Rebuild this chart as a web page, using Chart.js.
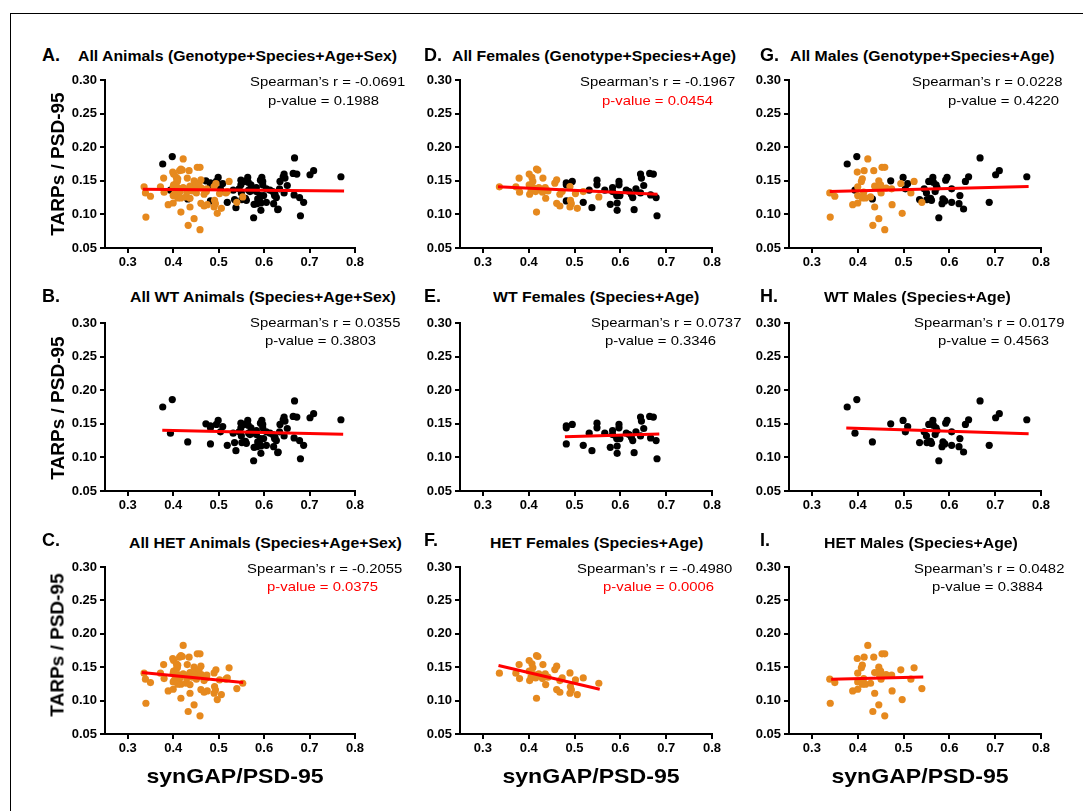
<!DOCTYPE html>
<html>
<head>
<meta charset="utf-8">
<script src="https://cdn.jsdelivr.net/npm/chart.js@4.4.1/dist/chart.umd.min.js"></script>
<style>
  html, body { margin: 0; padding: 0; background: #fff; }
  body { width: 1083px; height: 811px; position: relative; overflow: hidden;
         font-family: "Liberation Sans", Arial, Helvetica, sans-serif; color: #000; }
  .frame { position: absolute; left: 10px; top: 13px; width: 1200px; height: 1000px;
           border-left: 1px solid #000; border-top: 1px solid #000; }
  .txt { position: absolute; white-space: nowrap; line-height: 1; transform-origin: 0 0; }
  canvas { position: absolute; }
</style>
</head>
<body>
<div class="frame"></div>
<script>
// ---------------- DATA ----------------
// WT females (black)
const wtFemaleX = [0.482,0.482,0.482,0.495,0.519,0.532,0.538,0.549,0.549,0.566,0.578,0.583,0.583,0.592,0.593,0.593,0.597,0.597,0.599,0.613,0.619,0.624,0.627,0.630,0.634,0.644,0.646,0.644,0.651,0.664,0.672,0.666,0.678,0.680];
const wtFemaleY = [0.147,0.144,0.120,0.149,0.118,0.136,0.110,0.151,0.144,0.136,0.115,0.140,0.134,0.128,0.117,0.106,0.149,0.144,0.128,0.136,0.134,0.130,0.125,0.107,0.138,0.160,0.154,0.132,0.143,0.161,0.160,0.129,0.125,0.098];
// WT males (black)
const wtMaleX = [0.377,0.398,0.394,0.432,0.472,0.499,0.504,0.509,0.535,0.545,0.550,0.551,0.555,0.559,0.561,0.564,0.565,0.569,0.571,0.573,0.577,0.584,0.586,0.590,0.592,0.595,0.605,0.605,0.623,0.621,0.631,0.635,0.642,0.667,0.687,0.701,0.709,0.769];
const wtMaleY = [0.175,0.186,0.136,0.123,0.150,0.155,0.138,0.146,0.122,0.138,0.132,0.122,0.149,0.124,0.121,0.155,0.148,0.134,0.144,0.140,0.095,0.116,0.123,0.120,0.151,0.155,0.138,0.118,0.128,0.116,0.108,0.149,0.156,0.184,0.118,0.159,0.165,0.156];
// HET females (orange)
const hetFemaleX = [0.336,0.372,0.379,0.380,0.401,0.401,0.402,0.405,0.407,0.409,0.411,0.415,0.417,0.420,0.417,0.422,0.431,0.430,0.436,0.437,0.442,0.457,0.461,0.461,0.468,0.468,0.473,0.490,0.491,0.493,0.490,0.502,0.506,0.519,0.553];
const hetFemaleY = [0.141,0.141,0.154,0.133,0.160,0.144,0.130,0.135,0.155,0.149,0.139,0.134,0.1675,0.166,0.1035,0.140,0.154,0.133,0.140,0.124,0.135,0.1465,0.1515,0.1165,0.1125,0.130,0.134,0.1415,0.121,0.116,0.111,0.131,0.109,0.134,0.126];
// HET males (orange)
const hetMaleX = [0.339,0.340,0.350,0.389,0.399,0.400,0.400,0.400,0.408,0.410,0.414,0.413,0.410,0.417,0.422,0.428,0.433,0.435,0.437,0.437,0.446,0.448,0.446,0.451,0.450,0.453,0.459,0.459,0.462,0.474,0.475,0.494,0.497,0.516,0.523,0.540];
const hetMaleY = [0.132,0.096,0.127,0.1145,0.163,0.141,0.128,0.117,0.149,0.153,0.165,0.133,0.1245,0.1245,0.1826,0.126,0.0837,0.165,0.142,0.111,0.150,0.137,0.0937,0.132,0.144,0.170,0.170,0.0772,0.139,0.138,0.1145,0.146,0.1016,0.132,0.149,0.118];

// panels in order A, B, C, D, E, F, G, H, I
const panelLetters = ['A.','B.','C.','D.','E.','F.','G.','H.','I.'];
const panelTitles = [
  'All Animals (Genotype+Species+Age+Sex)',
  'All WT Animals (Species+Age+Sex)',
  'All HET Animals (Species+Age+Sex)',
  'All Females (Genotype+Species+Age)',
  'WT Females (Species+Age)',
  'HET Females (Species+Age)',
  'All Males (Genotype+Species+Age)',
  'WT Males (Species+Age)',
  'HET Males (Species+Age)'
];
const spearmanR = ['-0.0691','0.0355','-0.2055','-0.1967','0.0737','-0.4980','0.0228','0.0179','0.0482'];
const pValues   = ['0.1988','0.3803','0.0375','0.0454','0.3346','0.0006','0.4220','0.4563','0.3884'];
// which groups appear in each panel
const panelGroups = [
  ['wtF','wtM','hetF','hetM'], ['wtF','wtM'], ['hetF','hetM'],
  ['wtF','hetF'], ['wtF'], ['hetF'],
  ['wtM','hetM'], ['wtM'], ['hetM']
];
// regression line end points
const fitLineX = [[0.333,0.776],[0.376,0.774],[0.331,0.554],[0.333,0.681],[0.479,0.685],[0.334,0.555],[0.339,0.773],[0.375,0.773],[0.342,0.543]];
const fitLineY = [[0.1376,0.1347],[0.1403,0.1343],[0.142,0.127],[0.141,0.130],[0.1307,0.1347],[0.1525,0.117],[0.134,0.1416],[0.1436,0.1352],[0.1319,0.1354]];

const xTickValues = [0.3,0.4,0.5,0.6,0.7,0.8];
const yTickValues = [0.05,0.10,0.15,0.20,0.25,0.30];
const xRange = [0.25, 0.8];
const yRange = [0.05, 0.30];
const yAxisTitle = 'TARPs / PSD-95';
const xAxisTitle = 'synGAP/PSD-95';

// ---------------- STYLE / LAYOUT ----------------
const FONT = '"Liberation Sans", Arial, Helvetica, sans-serif';
const BLACK = '#000000';
const ORANGE = '#E6891E';
const RED = '#FF0000';
const groupData = {
  wtF: [wtFemaleX, wtFemaleY, BLACK], wtM: [wtMaleX, wtMaleY, BLACK],
  hetF: [hetFemaleX, hetFemaleY, ORANGE], hetM: [hetMaleX, hetMaleY, ORANGE]
};
const colAxisL = [105, 460, 789];
const colAxisR = [355, 712, 1041];
const rowAxisT = [80, 323, 567];
const rowAxisB = [248, 491, 734];
const letterX = [42, 424, 760];
const letterY = [55, 296, 540];
const titleLeft = [78, 130, 129, 452, 493, 490, 790, 824, 824];
const titleY = [56, 297, 543];
const rLeft = [250, 250, 247, 580, 591, 577, 912, 914, 914];
const rY = [82, 323, 569];
const pLeft = [268, 265, 267, 602, 605, 603, 948, 938, 932];
const pY = [101, 341, 587];
const yTitleY = [164, 408, 645];
const xTitleX = [235, 591, 920];
const xTitleY = 775;

const PT = 12, PR = 14, YW = 52, XH = 30;

function addText(str, left, centerY, size, weight, color, sx) {
  const d = document.createElement('div');
  d.className = 'txt';
  d.textContent = str;
  d.style.left = left + 'px';
  d.style.top = (centerY - size / 2) + 'px';
  d.style.fontSize = size + 'px';
  d.style.fontWeight = weight;
  d.style.color = color;
  if (sx) d.style.transform = 'scaleX(' + sx + ')';
  document.body.appendChild(d);
  return d;
}
function addCentered(str, cx, cy, size, transform) {
  const d = document.createElement('div');
  d.className = 'txt';
  d.textContent = str;
  d.style.left = cx + 'px';
  d.style.top = cy + 'px';
  d.style.fontSize = size + 'px';
  d.style.fontWeight = 'bold';
  d.style.transformOrigin = '0 0';
  d.style.transform = transform;
  document.body.appendChild(d);
}
const toPts = (xs, ys) => xs.map((x, i) => ({ x: x, y: ys[i] }));

for (let p = 0; p < 9; p++) {
  const col = Math.floor(p / 3), row = p % 3;
  const aL = colAxisL[col], aR = colAxisR[col], aT = rowAxisT[row], aB = rowAxisB[row];
  const cv = document.createElement('canvas');
  const W = YW + (aR - aL) + PR, H = PT + (aB - aT) + XH;
  cv.width = W; cv.height = H;
  cv.style.width = W + 'px'; cv.style.height = H + 'px';
  cv.style.left = (aL - YW) + 'px'; cv.style.top = (aT - PT) + 'px';
  document.body.appendChild(cv);

  const datasets = [{
    type: 'line', order: 0,
    data: toPts(fitLineX[p], fitLineY[p]),
    borderColor: RED, borderWidth: 3, pointRadius: 0, fill: false, tension: 0
  }];
  panelGroups[p].forEach(g => {
    const gd = groupData[g];
    datasets.push({
      type: 'scatter', order: gd[2] === ORANGE ? 1 : 2,
      data: toPts(gd[0], gd[1]),
      backgroundColor: gd[2], borderWidth: 0, pointRadius: 3.6, pointHoverRadius: 3.6
    });
  });

  const tickFont = { family: FONT, size: 13, weight: 'bold' };
  new Chart(cv, {
    data: { datasets: datasets },
    options: {
      responsive: false, animation: false, devicePixelRatio: 1,
      layout: { padding: { top: PT, right: PR, left: 0, bottom: 0 } },
      plugins: { legend: { display: false }, tooltip: { enabled: false } },
      events: [],
      scales: {
        x: {
          type: 'linear', min: xRange[0], max: xRange[1],
          afterBuildTicks: s => { s.ticks = xTickValues.map(v => ({ value: v })); },
          afterFit: s => { s.height = XH; },
          ticks: { font: tickFont, color: BLACK, padding: 2, autoSkip: false, maxRotation: 0,
                   callback: v => Number(v).toFixed(1) },
          grid: { drawOnChartArea: false, drawTicks: true, tickLength: 5, color: BLACK, lineWidth: 2 },
          border: { display: true, color: BLACK, width: 2 }
        },
        y: {
          type: 'linear', min: yRange[0], max: yRange[1],
          afterBuildTicks: s => { s.ticks = yTickValues.map(v => ({ value: v })); },
          afterFit: s => { s.width = YW; },
          ticks: { font: tickFont, color: BLACK, padding: 3, autoSkip: false,
                   callback: v => Number(v).toFixed(2) },
          grid: { drawOnChartArea: false, drawTicks: true, tickLength: 5, color: BLACK, lineWidth: 2 },
          border: { display: true, color: BLACK, width: 2 }
        }
      }
    }
  });

  // texts
  addText(panelLetters[p], letterX[col], letterY[row], 18, 'bold', BLACK, 0);
  addText(panelTitles[p], titleLeft[p], titleY[row], 14, 'bold', BLACK, 1.13);
  addText('Spearman\u2019s r = ' + spearmanR[p], rLeft[p], rY[row], 13.5, 'normal', BLACK, 1.1);
  const sig = parseFloat(pValues[p]) < 0.05;
  addText('p-value = ' + pValues[p], pLeft[p], pY[row], 13.5, 'normal', sig ? RED : BLACK, 1.1);

  if (col === 0) addCentered(yAxisTitle, 57, yTitleY[row], 19, 'rotate(-90deg) translate(-50%, -50%)');
  if (row === 2) addCentered(xAxisTitle, xTitleX[col], xTitleY, 21, 'scaleX(1.1) translate(-50%, -50%)');
}
</script>
</body>
</html>
